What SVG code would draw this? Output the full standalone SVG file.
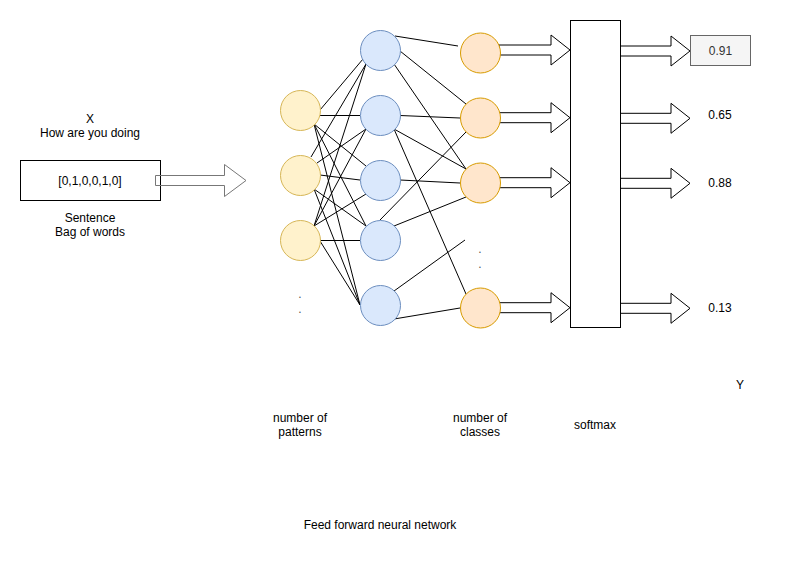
<svg xmlns="http://www.w3.org/2000/svg" width="791" height="561" viewBox="0 0 791 561">
<style>
text{font-family:"Liberation Sans",Arial,Helvetica,sans-serif;font-size:12px;fill:#000;text-anchor:middle}
.in{fill:#fff2cc;stroke:#d6b656;stroke-width:1}
.hid{fill:#dae8fc;stroke:#6c8ebf;stroke-width:1}
.out{fill:#ffe6cc;stroke:#d79b00;stroke-width:1}
.ln{stroke:#000;stroke-width:1;fill:none}
.arr{fill:#fff;stroke:#000;stroke-width:1;stroke-linejoin:miter}
.box{fill:#fff;stroke:#000;stroke-width:1}
.dot{fill:#555}
</style>
<rect width="791" height="561" fill="#fff"/>

<g id="input-box">
<rect class="box" x="20.5" y="160.5" width="140" height="40"/>
<text x="90" y="184.5">[0,1,0,0,1,0]</text>
</g>
<g id="label-x">
<text x="90" y="122.5">X</text>
<text x="90" y="137">How are you doing</text>
</g>
<g id="label-sentence">
<text x="90" y="221.5">Sentence</text>
<text x="90" y="236">Bag of words</text>
</g>

<g id="connectors">
<path class="arr" style="fill:none;stroke:#777;stroke-linejoin:round" d="M155.5,175.5 L224.5,175.5 L224.5,164.5 L246,180.5 L224.5,196.5 L224.5,185.5 L155.5,185.5 Z"/>
<g class="ln">
<line x1="320" y1="110" x2="363" y2="59"/>
<line x1="320" y1="115.5" x2="360" y2="115.5"/>
<line x1="314" y1="124" x2="366" y2="166"/>
<line x1="314" y1="124" x2="366" y2="226"/>
<line x1="314" y1="124" x2="360" y2="305"/>
<line x1="311" y1="157" x2="366" y2="64"/>
<line x1="317" y1="163" x2="366" y2="129"/>
<line x1="320" y1="175" x2="360" y2="180"/>
<line x1="314" y1="189" x2="366" y2="226"/>
<line x1="314" y1="189" x2="360" y2="305"/>
<line x1="314" y1="226" x2="366" y2="64"/>
<line x1="314" y1="226" x2="366" y2="129"/>
<line x1="314" y1="226" x2="366" y2="194"/>
<line x1="320" y1="240.5" x2="360" y2="240.5"/>
<line x1="320" y1="241" x2="360" y2="305"/>
<line x1="395" y1="36" x2="458" y2="46"/>
<line x1="400" y1="51" x2="466" y2="104"/>
<line x1="394" y1="64" x2="466" y2="169"/>
<line x1="400" y1="115.5" x2="460" y2="118"/>
<line x1="394" y1="129" x2="466" y2="169"/>
<line x1="394" y1="129" x2="466" y2="294"/>
<line x1="400" y1="180" x2="460" y2="183"/>
<line x1="380" y1="220" x2="466" y2="132"/>
<line x1="394" y1="226" x2="466" y2="197"/>
<line x1="394" y1="291" x2="465" y2="240"/>
<line x1="394" y1="319" x2="460" y2="308"/>
</g>
<path class="arr" d="M499,45 L551,45 L551,35 L570,50 L551,65 L551,55 L499,55 Z"/>
<path class="arr" d="M499,112.7 L551,112.7 L551,102.7 L570,117.7 L551,132.7 L551,122.7 L499,122.7 Z"/>
<path class="arr" d="M499,177.7 L551,177.7 L551,167.7 L570,182.7 L551,197.7 L551,187.7 L499,187.7 Z"/>
<path class="arr" d="M499,302.7 L551,302.7 L551,292.7 L570,307.7 L551,322.7 L551,312.7 L499,312.7 Z"/>
<path class="arr" d="M620,46 L671,46 L671,36 L690,51 L671,66 L671,56 L620,56 Z"/>
<path class="arr" d="M620,113.3 L671,113.3 L671,103.3 L690,118.3 L671,133.3 L671,123.3 L620,123.3 Z"/>
<path class="arr" d="M620,178.3 L671,178.3 L671,168.3 L690,183.3 L671,198.3 L671,188.3 L620,188.3 Z"/>
<path class="arr" d="M620,303.3 L671,303.3 L671,293.3 L690,308.3 L671,323.3 L671,313.3 L620,313.3 Z"/>
</g>

<g id="input-layer">
<circle class="in" cx="300.5" cy="110.5" r="20"/>
<circle class="in" cx="300.5" cy="175.5" r="20"/>
<circle class="in" cx="300.5" cy="240.5" r="20"/>
<text class="dot" x="300" y="298">.</text>
<text class="dot" x="300" y="313">.</text>
</g>
<g id="hidden-layer">
<circle class="hid" cx="380.5" cy="50.5" r="20"/>
<circle class="hid" cx="380.5" cy="115.5" r="20"/>
<circle class="hid" cx="380.5" cy="180.5" r="20"/>
<circle class="hid" cx="380.5" cy="240.5" r="20"/>
<circle class="hid" cx="380.5" cy="305.5" r="20"/>
</g>
<g id="output-layer">
<circle class="out" cx="480.5" cy="53" r="20"/>
<circle class="out" cx="480.5" cy="118" r="20"/>
<circle class="out" cx="480.5" cy="183" r="20"/>
<circle class="out" cx="480.5" cy="308" r="20"/>
<text class="dot" x="480" y="253">.</text>
<text class="dot" x="480" y="268">.</text>
</g>
<g id="softmax">
<rect class="box" x="570.5" y="20.5" width="50" height="307"/>
</g>
<g id="out-091">
<rect x="690.5" y="35.5" width="60" height="30" fill="#f5f5f5" stroke="#666" stroke-width="1"/>
<text x="720.5" y="54.5" style="fill:#333">0.91</text>
</g>
<g id="out-065"><text x="720" y="119">0.65</text></g>
<g id="out-088"><text x="720" y="186.5">0.88</text></g>
<g id="out-013"><text x="720" y="312">0.13</text></g>

<g id="label-patterns">
<text x="300" y="421.5">number of</text>
<text x="300" y="436">patterns</text>
</g>
<g id="label-classes">
<text x="480" y="421.5">number of</text>
<text x="480" y="436">classes</text>
</g>
<g id="label-softmax"><text x="595" y="429">softmax</text></g>
<g id="label-y"><text x="740" y="388.5">Y</text></g>
<g id="title"><text x="380" y="528.5">Feed forward neural network</text></g>
</svg>
